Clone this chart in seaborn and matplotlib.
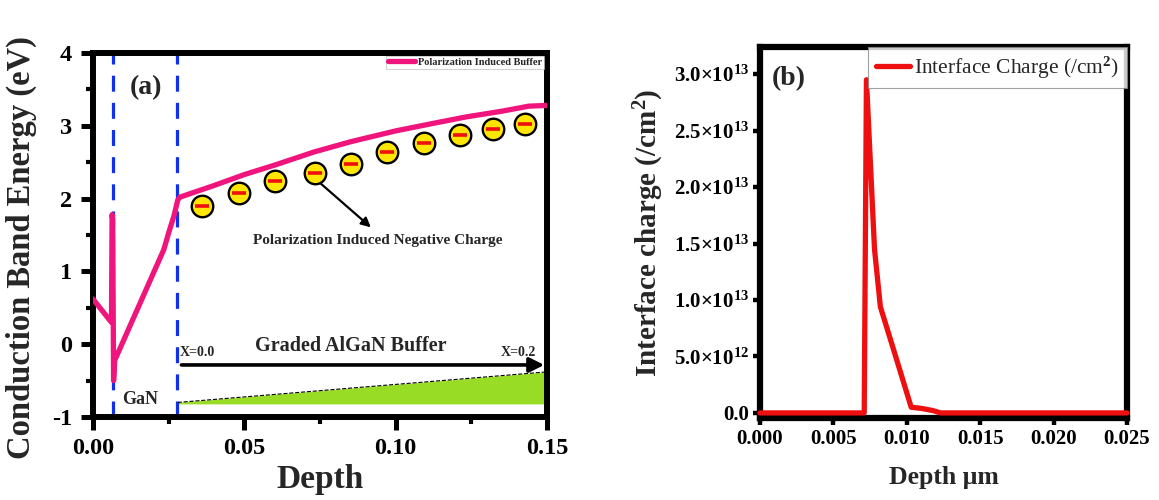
import numpy as np
import pandas as pd
import matplotlib
matplotlib.use("Agg")
import matplotlib.pyplot as plt
from matplotlib.ticker import MultipleLocator, FixedLocator, FixedFormatter
import seaborn as sns

# ---------------- data ----------------
# panel (a): conduction band energy vs depth
depth_a = [0.0, 0.0061, 0.0063, 0.0065, 0.0068, 0.0072, 0.0234, 0.0250, 0.0268,
           0.0280, 0.0287, 0.0400, 0.0500, 0.0600, 0.0730, 0.0850, 0.1000,
           0.1120, 0.1230, 0.1350, 0.1440, 0.1500]
energy_a = [0.62, 0.30, 1.78, 1.72, -0.50, -0.22, 1.30, 1.53, 1.77,
            1.98, 2.02, 2.18, 2.33, 2.46, 2.64, 2.78, 2.93,
            3.03, 3.12, 3.20, 3.27, 3.28]
charge_depth = [0.0360, 0.0483, 0.0602, 0.0733, 0.0851, 0.0973, 0.1095, 0.1214, 0.1323, 0.1428]
charge_energy = [1.90, 2.08, 2.24, 2.35, 2.48, 2.64, 2.77, 2.87, 2.95, 3.03]
interface_lines = [0.0066, 0.0278]
wedge_depth = [0.0280, 0.1500]
wedge_top = [-0.80, -0.38]
wedge_bottom = [-0.82, -0.82]
a_xticks = [0.00, 0.05, 0.10, 0.15]
a_xticklabels = ["0.00", "0.05", "0.10", "0.15"]
a_yticks = [-1, 0, 1, 2, 3, 4]
a_yticklabels = ["-1", "0", "1", "2", "3", "4"]

# panel (b): interface charge vs depth
depth_b = [0.0, 0.0071, 0.00725, 0.0078, 0.0082, 0.0091, 0.0103, 0.0110, 0.0118, 0.0123, 0.0250]
charge_b = [0.0, 0.0, 2.95e13, 1.45e13, 0.94e13, 0.56e13, 0.05e13, 0.04e13, 0.02e13, 0.0, 0.0]
b_xticks = [0.000, 0.005, 0.010, 0.015, 0.020, 0.025]
b_xticklabels = ["0.000", "0.005", "0.010", "0.015", "0.020", "0.025"]
b_yticks = [0.0, 0.5e13, 1.0e13, 1.5e13, 2.0e13, 2.5e13, 3.0e13]
b_yticklabels = ["0.0",
                 r"$\mathbf{5.0{\times}10^{12}}$",
                 r"$\mathbf{1.0{\times}10^{13}}$",
                 r"$\mathbf{1.5{\times}10^{13}}$",
                 r"$\mathbf{2.0{\times}10^{13}}$",
                 r"$\mathbf{2.5{\times}10^{13}}$",
                 r"$\mathbf{3.0{\times}10^{13}}$"]

# ---------------- style ----------------
sns.set_theme(style="ticks")
plt.rcParams['font.family'] = ['Liberation Serif', 'DejaVu Serif']
plt.rcParams['font.weight'] = 'bold'
plt.rcParams['axes.labelweight'] = 'bold'
plt.rcParams['mathtext.fontset'] = 'custom'
plt.rcParams['mathtext.rm'] = 'Liberation Serif:bold'
plt.rcParams['mathtext.bf'] = 'Liberation Serif:bold'
plt.rcParams['mathtext.it'] = 'Liberation Serif:bold:italic'
plt.rcParams['axes.unicode_minus'] = False

PINK = '#f0157c'
BLUE = '#1030f0'
RED = '#ee1010'
GREEN = '#98dc26'

fig = plt.figure(figsize=(11.59, 5.0), dpi=100)
ax1 = fig.add_axes([93/1159, 1-417/500, 454/1159, 364/500])
ax2 = fig.add_axes([760/1159, 1-418/500, 367/1159, 371/500])

# ---------------- panel (a) ----------------
df_a = pd.DataFrame({"Depth": depth_a, "Energy": energy_a})
for xv in interface_lines:
    ax1.axvline(xv, color=BLUE, lw=2.3, dashes=(5, 3.5), zorder=2)

ax1.fill_between(wedge_depth, wedge_bottom, wedge_top, color=GREEN, lw=0, zorder=1)
ax1.plot(wedge_depth, wedge_top, color='black', lw=0.8, ls='--', zorder=2)

sns.lineplot(data=df_a, x="Depth", y="Energy", ax=ax1, color=PINK, lw=3.8,
             sort=False, estimator=None, label="Polarization Induced Buffer", zorder=3)

df_c = pd.DataFrame({"Depth": charge_depth, "Energy": charge_energy})
sns.scatterplot(data=df_c, x="Depth", y="Energy", ax=ax1, s=240, color='#ffe600',
                edgecolor='black', linewidth=1.7, zorder=4, legend=False)
sns.scatterplot(data=df_c, x="Depth", y="Energy", ax=ax1, s=100, marker='_',
                color=RED, linewidth=2.6, zorder=5, legend=False)

ax1.annotate("", xy=(0.0925, 1.58), xytext=(0.0735, 2.27),
             arrowprops=dict(arrowstyle='-|>', color='black', lw=1.6, mutation_scale=14))
ax1.text(0.0942, 1.42, "Polarization Induced Negative Charge", ha='center', va='center',
         fontsize=11, fontweight='bold')
ax1.annotate("", xy=(0.1500, -0.285), xytext=(0.0283, -0.285),
             arrowprops=dict(arrowstyle='-|>', color='black', lw=2.6, mutation_scale=22))
ax1.text(0.0287, -0.11, "X=0.0", ha='left', va='center', fontsize=10, fontweight='bold')
ax1.text(0.1405, -0.11, "X=0.2", ha='center', va='center', fontsize=10, fontweight='bold')
ax1.text(0.0853, -0.03, "Graded AlGaN Buffer", ha='center', va='center', fontsize=14.5,
         fontweight='bold')
ax1.text(0.0155, -0.76, "GaN", ha='center', va='center', fontsize=13, fontweight='bold')
ax1.text(0.0175, 3.52, "(a)", ha='center', va='center', fontsize=20, fontweight='bold')

ax1.set_xlim(0, 0.15)
ax1.set_ylim(-1, 4)
ax1.xaxis.set_major_locator(FixedLocator(a_xticks))
ax1.xaxis.set_major_formatter(FixedFormatter(a_xticklabels))
ax1.yaxis.set_major_locator(FixedLocator(a_yticks))
ax1.yaxis.set_major_formatter(FixedFormatter(a_yticklabels))
ax1.xaxis.set_minor_locator(MultipleLocator(0.025))
ax1.yaxis.set_minor_locator(MultipleLocator(0.5))
ax1.tick_params(which='major', direction='out', length=9, width=3.6, labelsize=17.5, pad=6,
                color='black', labelcolor='black')
ax1.tick_params(which='minor', direction='out', length=5, width=3.0, color='black')
for s in ax1.spines.values():
    s.set_linewidth(4.3)
    s.set_color('black')
    s.set_visible(True)
ax1.set_xlabel("Depth", fontsize=24, fontweight='bold')
ax1.set_ylabel("Conduction Band Energy (eV)", fontsize=23.5, fontweight='bold')
ax1.xaxis.set_label_coords(0.5, -0.128)
ax1.yaxis.set_label_coords(-0.124, 0.465)
leg1 = ax1.legend(loc='upper right', fontsize=7.5, frameon=True, handlelength=2.6,
                  handletextpad=0.3, borderpad=0.2, borderaxespad=0.25, fancybox=False)
leg1.get_frame().set_edgecolor('#bbbbbb')
leg1.get_frame().set_linewidth(0.6)
for t in leg1.get_texts():
    t.set_fontweight('bold')

# ---------------- panel (b) ----------------
df_b = pd.DataFrame({"Depth": depth_b, "Charge": charge_b})
sns.lineplot(data=df_b, x="Depth", y="Charge", ax=ax2, color=RED, lw=3.8, sort=False,
             estimator=None, label=r"Interface Charge (/cm$^{2}$)", zorder=3, clip_on=False)
ax2.text(0.00198, 2.96e13, "(b)", ha='center', va='center', fontsize=20, fontweight='bold')
ax2.set_xlim(0, 0.025)
ax2.set_ylim(-0.045e13, 3.24e13)
ax2.xaxis.set_major_locator(FixedLocator(b_xticks))
ax2.xaxis.set_major_formatter(FixedFormatter(b_xticklabels))
ax2.yaxis.set_major_locator(FixedLocator(b_yticks))
ax2.yaxis.set_major_formatter(FixedFormatter(b_yticklabels))
ax2.tick_params(which='major', direction='out', length=5, width=3.2, labelsize=15, pad=3,
                color='black', labelcolor='black')
for s in ax2.spines.values():
    s.set_linewidth(4.5)
    s.set_color('black')
    s.set_visible(True)
ax2.set_xlabel("Depth \u03bcm", fontsize=18.5, fontweight='bold')
ax2.set_ylabel(r"Interface charge (/cm$^{2}$)", fontsize=21, fontweight='bold')
ax2.xaxis.set_label_coords(0.5, -0.13)
ax2.yaxis.set_label_coords(-0.255, 0.5)
leg2 = ax2.legend(loc='upper right', fontsize=15.5, frameon=True, handlelength=1.6,
                  handletextpad=0.2, borderpad=0.35, borderaxespad=0.0, fancybox=False)
leg2.get_frame().set_edgecolor('#888888')
leg2.get_frame().set_linewidth(0.8)
for t in leg2.get_texts():
    t.set_fontweight('normal')

fig.savefig("out.png", dpi=100)
